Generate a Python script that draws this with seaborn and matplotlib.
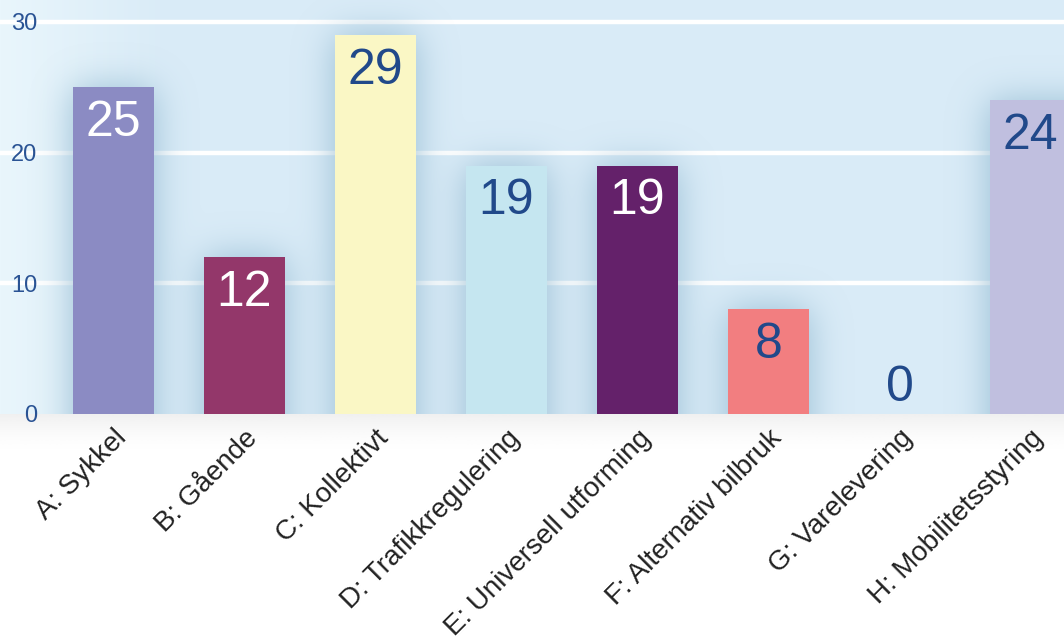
import numpy as np
import matplotlib
matplotlib.use("Agg")
import matplotlib.pyplot as plt
import seaborn as sns
from matplotlib.colors import to_rgb

categories = ["A: Sykkel", "B: Gående", "C: Kollektivt", "D: Trafikkregulering",
              "E: Universell utforming", "F: Alternativ bilbruk", "G: Varelevering",
              "H: Mobilitetsstyring"]
values = [25, 12, 29, 19, 19, 8, 0, 24]
bar_colors = ["#8b8bc3", "#93376a", "#faf7c5", "#c5e6f0",
              "#64216a", "#f27e80", "#c5e6f0", "#c0bfdf"]
label_colors = ["white", "white", "#21498a", "#21498a",
                "white", "#21498a", "#21498a", "#21498a"]
yticks = [0, 10, 20, 30]

BAR_W = 0.62
XLIM = (-0.866, 7.256)
YLIM = (0, 31.68)


def gaussian_blur(img, sigma):
    # separable blur, edge padding so the glow does not fade at the bottom
    r = int(3 * sigma)
    k = np.exp(-0.5 * (np.arange(-r, r + 1) / sigma) ** 2)
    k /= k.sum()
    pad = np.pad(img, r, mode="edge")
    tmp = np.apply_along_axis(lambda m: np.convolve(m, k, mode="valid"), 1, pad)
    out = np.apply_along_axis(lambda m: np.convolve(m, k, mode="valid"), 0, tmp)
    return out


def main():
    sns.set_theme(style="white")
    plt.rcParams["font.family"] = ["Liberation Sans", "DejaVu Sans"]

    fig = plt.figure(figsize=(10.64, 6.4), dpi=100)
    fig.patch.set_facecolor("white")
    bottom = 1 - 414 / 640

    # faint shadow under the plot area
    sh = fig.add_axes([0, bottom - 0.06, 1, 0.06])
    fade = np.linspace(1, 0, 50) ** 1.6
    rgba = np.zeros((50, 2, 4))
    rgba[..., :3] = 0.80
    rgba[..., 3] = 0.3 * fade[:, None]
    sh.imshow(rgba, aspect="auto", extent=(0, 1, 0, 1))
    sh.axis("off")

    ax = fig.add_axes([0, bottom, 1, 1 - bottom])
    ax.set_axisbelow(False)

    # background gradient
    H, W = 414, 1064
    xs = np.linspace(XLIM[0], XLIM[1], W)
    ys = np.linspace(YLIM[1], YLIM[0], H)
    light = np.array(to_rgb("#e9f6fc"))
    mid = np.array(to_rgb("#d9ebf7"))
    t = np.clip((np.arange(W) / 170.0), 0, 1)[None, :, None]
    bg = light * (1 - t) + mid * t
    bg = np.broadcast_to(bg, (H, W, 3))
    ax.imshow(bg, aspect="auto", extent=(XLIM[0], XLIM[1], YLIM[0], YLIM[1]), zorder=0)

    for y in yticks[1:]:
        ax.axhline(y, color="white", linewidth=3.2, zorder=1)

    # soft glow around the bars
    X, Y = np.meshgrid(xs, ys)
    mask = np.zeros((H, W))
    for k, v in enumerate(values):
        mask[(np.abs(X - k) <= BAR_W / 2) & (Y < v)] = 1.0
    glow = gaussian_blur(mask, 18)
    shadow = np.zeros((H, W, 4))
    shadow[..., :3] = to_rgb("#98bed4")
    shadow[..., 3] = np.clip(glow * 1.0, 0, 0.7)
    ax.imshow(shadow, aspect="auto", extent=(XLIM[0], XLIM[1], YLIM[0], YLIM[1]), zorder=2)

    sns.barplot(x=categories, y=values, hue=categories, palette=bar_colors,
                legend=False, width=BAR_W, saturation=1, linewidth=0,
                ax=ax, zorder=3)

    for k, v in enumerate(values):
        if v > 0:
            ax.annotate(str(v), (k, v), xytext=(0, -9), textcoords="offset points",
                        ha="center", va="top", fontsize=36, color=label_colors[k], zorder=4)
        else:
            ax.annotate(str(v), (k, v), xytext=(0, 2), textcoords="offset points",
                        ha="center", va="bottom", fontsize=36, color=label_colors[k], zorder=4)

    ax.set_xlim(XLIM)
    ax.set_ylim(YLIM)
    ax.set_yticks(yticks)
    ax.set_yticklabels([str(v) for v in yticks])
    ax.tick_params(axis="y", length=0, pad=-27, labelsize=17, labelcolor="#2a5394")
    for lab in ax.get_yticklabels():
        lab.set_horizontalalignment("right")
    ax.tick_params(axis="x", length=0, pad=8, labelsize=20, labelcolor="#222222")
    plt.setp(ax.get_xticklabels(), rotation=45, ha="right", rotation_mode="anchor")
    ax.set_xlabel("")
    ax.set_ylabel("")
    for s in ax.spines.values():
        s.set_visible(False)

    fig.savefig("out.png", dpi=100)


if __name__ == "__main__":
    main()
